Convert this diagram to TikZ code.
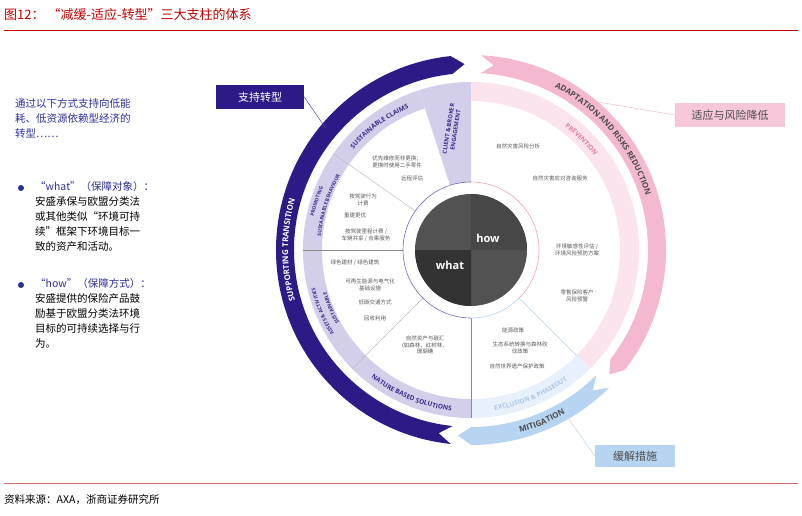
\documentclass[tikz,border=0pt]{standalone}
\usepackage{fontspec}
\newfontfamily\cjk{Noto Sans CJK SC}
\newfontfamily\wheelfont{Open Sans}
\usetikzlibrary{decorations.text}

\definecolor{navy}{HTML}{2E1A87}
\definecolor{lilac}{HTML}{D3CFEA}
\definecolor{lilactext}{HTML}{3B2A8A}
\definecolor{pinkarc}{HTML}{F4B8D0}
\definecolor{pinkband}{HTML}{FBE4ED}
\definecolor{pinktext}{HTML}{E77AA6}
\definecolor{bluearc}{HTML}{B7D4F0}
\definecolor{blueband}{HTML}{E8F1FB}
\definecolor{bluetext}{HTML}{A9C7EA}
\definecolor{leadblue}{HTML}{2B2F9A}
\definecolor{titlered}{HTML}{C00000}

\tikzset{
  note/.style={font=\cjk\fontsize{5.5}{6.8}\selectfont, text=black!65, align=center, inner sep=0pt},
  sepline/.style={draw=black!25, line width=0.5pt},
  callout/.style={font=\cjk\fontsize{11}{13}\selectfont, minimum height=24pt, inner sep=5pt},
  lead/.style={font=\cjk\fontsize{10.5}{15}\selectfont, align=left, anchor=north west, inner sep=0pt}
}

% arc band with a notch at its start and a head at its end (clockwise)
\newcommand{\flowarc}[3]{%
  \fill[#3] (#1:195) arc[start angle=#1, end angle=#2, radius=195]
    -- ({#2-4}:186) -- (#2:177) arc[start angle=#2, end angle=#1, radius=177]
    -- ({#1-4}:186) -- cycle;}
% text set along an arc
\newcommand{\arctext}[5]{%
  \path[decorate, decoration={text along path, text align=center,
    text={|#4|#5}}] (#2:#1) arc[start angle=#2, end angle=#3, radius=#1];}

\begin{document}
\begin{tikzpicture}[x=1pt, y=1pt]
\useasboundingbox (0,0) rectangle (802,515);

% title and rules
\node[anchor=west, font=\cjk\fontsize{13}{15}\selectfont, text=titlered, inner sep=0] (title) at (4,500) {图12：\ “减缓-适应-转型”三大支柱的体系};
\draw[titlered, line width=0.8pt] (4,485) -- (798,485);
\draw[titlered!60, line width=0.8pt] (4,32) -- (798,32);
\node[anchor=west, font=\cjk\fontsize{10.5}{12}\selectfont, inner sep=0] (source) at (4,15) {资料来源：AXA，浙商证券研究所};

% left text
\node[lead, text=leadblue] (intro) at (15,417) {通过以下方式支持向低能\\耗、低资源依赖型经济的\\转型……};
\fill[leadblue] (21,327) circle (3);
\node[lead] (whatnote) at (35,334) {\textcolor{leadblue}{“what”（保障对象）：}\\安盛承保与欧盟分类法\\或其他类似“环境可持\\续”框架下环境目标一\\致的资产和活动。};
\fill[leadblue] (21,230) circle (3);
\node[lead] (hownote) at (35,237) {\textcolor{leadblue}{“how”（保障方式）：}\\安盛提供的保险产品鼓\\励基于欧盟分类法环境\\目标的可持续选择与行\\为。};

\begin{scope}[shift={(471,265)}]
% bands
\fill[lilac] (108:168) arc[start angle=108, end angle=270, radius=168]
  -- (270:149) arc[start angle=270, end angle=108, radius=149] -- cycle;
\fill[lilac] (90:68) -- (90:168) arc[start angle=90, end angle=108, radius=168]
  -- (108:68) arc[start angle=108, end angle=90, radius=68] -- cycle;
\fill[pinkband] (90:168) arc[start angle=90, end angle=-45, radius=168]
  -- (-45:149) arc[start angle=-45, end angle=90, radius=149] -- cycle;
\fill[blueband] (-45:168) arc[start angle=-45, end angle=-90, radius=168]
  -- (-90:149) arc[start angle=-90, end angle=-45, radius=149] -- cycle;

% outer arrows
\flowarc{264}{96}{navy}
\flowarc{87}{-38}{pinkarc}
\flowarc{-45}{-90}{bluearc}

% separators
\draw[sepline, draw=black!45] (180:68) -- (180:168);
\draw[sepline, draw=black!45] (270:68) -- (270:168);
\draw[sepline] (145:68) -- (145:168);
\draw[sepline] (225:68) -- (225:168);
\draw[sepline, draw=bluearc] (-45:68) -- (-45:149);

% inner ring and disc
\draw[lilactext!70, line width=0.6pt] (90:68) arc[start angle=90, end angle=270, radius=68];
\draw[pinktext!70, line width=0.6pt] (90:68) arc[start angle=90, end angle=-45, radius=68];
\draw[bluearc, line width=0.6pt] (-45:68) arc[start angle=-45, end angle=-90, radius=68];
\fill[black!68] (0,0) circle (56);
\fill[black!80] (0,0) -- (180:56) arc[start angle=180, end angle=270, radius=56] -- cycle;
\fill[black!72] (0,0) -- (0:56) arc[start angle=0, end angle=90, radius=56] -- cycle;
\node[font=\wheelfont\bfseries\fontsize{11}{12}\selectfont, text=white] (how) at (17,12) {how};
\node[font=\wheelfont\bfseries\fontsize{11}{12}\selectfont, text=white] (what) at (-21,-15) {what};

% texts along the arcs
\arctext{183}{215}{145}{\wheelfont\bfseries\fontsize{8}{9}\selectfont\color{white}}{SUPPORTING TRANSITION}
\arctext{183}{82}{-2}{\wheelfont\bfseries\fontsize{8}{9}\selectfont\color{black!70}}{ADAPTATION AND RISKS REDUCTION}
\arctext{189}{-95}{-40}{\wheelfont\bfseries\fontsize{8}{9}\selectfont\color{black!70}}{MITIGATION}
\arctext{155}{145}{108}{\wheelfont\bfseries\fontsize{6.5}{7}\selectfont\color{lilactext}}{SUSTAINABLE CLAIMS}
\arctext{160.5}{182}{143}{\wheelfont\bfseries\fontsize{5}{6}\selectfont\color{lilactext}}{PROMOTING}
\arctext{150.5}{182}{143}{\wheelfont\bfseries\fontsize{5}{6}\selectfont\color{lilactext}}{SUSTAINABLE BEHAVIOUR}
\arctext{160.5}{227}{178}{\wheelfont\bfseries\fontsize{5}{6}\selectfont\color{lilactext}}{ASSETS {\&} ACTIVITIES}
\arctext{150.5}{227}{178}{\wheelfont\bfseries\fontsize{5}{6}\selectfont\color{lilactext}}{SUSTAINABLE}
\arctext{162}{225}{270}{\wheelfont\bfseries\fontsize{6.5}{7}\selectfont\color{lilactext}}{NATURE BASED SOLUTIONS}
\arctext{155}{65}{25}{\wheelfont\bfseries\fontsize{6.5}{7}\selectfont\color{pinktext}}{PREVENTION}
\arctext{162}{-88}{-47}{\wheelfont\bfseries\fontsize{6.5}{7}\selectfont\color{bluetext}}{EXCLUSION {\&} PHASEOUT}
\node[rotate=81, align=center, font=\wheelfont\bfseries\fontsize{5.8}{7}\selectfont, text=lilactext] (client) at (99:122) {CLIENT \& BROKER\\ENGAGEMENT};

% small notes
\node[note] (n1) at (-74,88) {优先维修而非更换；\\更换时使用二手零件};
\node[note] (n2) at (-59,72) {远程评估};
\node[note] (n3) at (-108,50) {按驾驶行为\\计费};
\node[note] (n4) at (-116,35) {重建更优};
\node[note] (n5) at (-105,15) {按驾驶里程计费 /\\车辆共享 / 合乘服务};
\node[note] (n6) at (-116,-13) {绿色建材 / 绿色建筑};
\node[note] (n7) at (-101,-35) {可再生能源与电气化\\基础设施};
\node[note] (n8) at (-96,-52) {低碳交通方式};
\node[note] (n9) at (-96,-68) {回收利用};
\node[note] (n10) at (-46,-95) {自然资产与碳汇\\(如森林、红树林、\\珊瑚礁};
\node[note] (n11) at (42,-80) {能源政策};
\node[note] (n12) at (49,-98) {生态系统转换与森林砍\\伐政策};
\node[note] (n13) at (46,-116) {自然世界遗产保护政策};
\node[note] (n14) at (47,104) {自然灾害风险分析};
\node[note] (n15) at (89,72) {自然灾害应对咨询服务};
\node[note] (n16) at (106,0) {环境敏感性评估 /\\环境风险预防方案};
\node[note] (n17) at (106,-46) {零售保险客户\\风险预警};

\coordinate (navyend) at (140:190);
\coordinate (pinkend) at (52:190);
\coordinate (blueend) at (-60:193);
\end{scope}

% callouts
\node[callout, fill=navy, text=white, minimum width=88pt] (transition) at (260,418) {支持转型};
\node[callout, fill=pinkarc!80, text=black!70, minimum width=110pt] (adapt) at (730,400) {适应与风险降低};
\node[callout, fill=bluearc, text=black!70, minimum width=80pt, minimum height=22pt] (mitig) at (635,59) {缓解措施};
\draw[navy!80, line width=0.5pt] (transition.east) -- (navyend);
\draw[pinkarc, line width=0.5pt] (adapt.west) -- (pinkend);
\draw[bluearc, line width=0.5pt] (mitig.west) -- (blueend);
\end{tikzpicture}
\end{document}
